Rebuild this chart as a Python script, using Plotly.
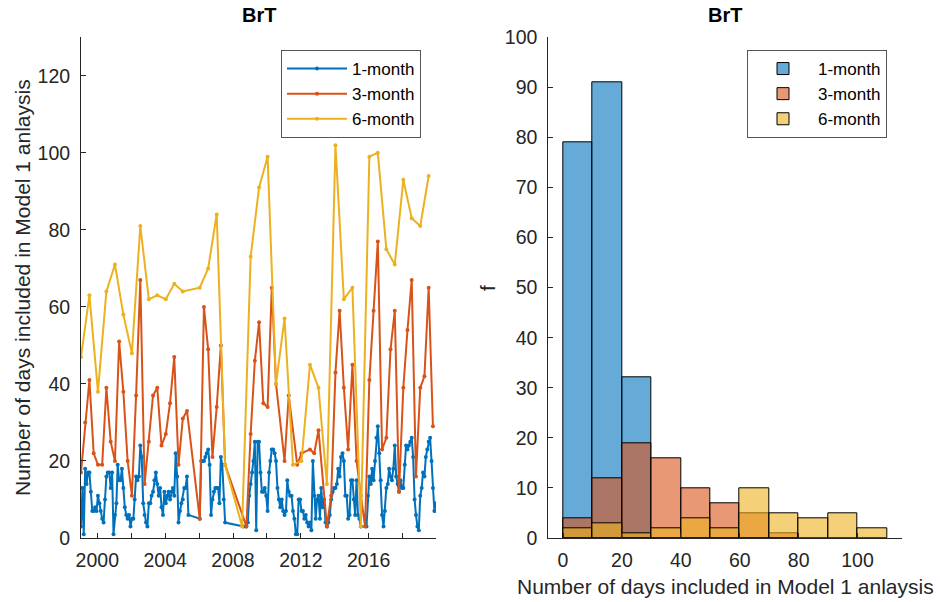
import pandas as pd
import plotly.graph_objects as go

N = None

# ---------------- Time series (left panel) ----------------
# 1-month values, monthly Jan 1999 .. Dec 2019 (None = no value)
one_month = [
    3, 13, 1, 18, 14, 17, 17, 12, 7, 7, 8, 7,          # 1999
    11, 9, 7, 5, 4, 10, 16, 17, 17, 13, 17, 1,         # 2000
    6, 9, 19, 15, 15, 18, 13, 8, 6, 5, 6, 3,           # 2001
    5, 5, 10, 16, 15, 16, 24, 21, 9, 6, 4, 3,          # 2002
    9, 9, 11, 12, 15, 17, 14, 11, 13, 8, 6, 12,        # 2003
    9, 11, 12, 10, 12, 13, 11, 22, 16, 4, 7, 9,        # 2004
    10, 13, 13, 16, 6, N, N, N, N, N, N, N,            # 2005
    5, 20, 20, 20, 21, 22, 23, 19, 6, 10, 12, 13,      # 2006
    13, 13, 9, 21, 19, 10, 4, N, N, N, N, N,           # 2007
    N, N, N, N, N, N, N, 3, N, 3, 4, 11,               # 2008
    14, 17, 20, 25, 2, 25, 25, 17, 12, 12, 13, 11,     # 2009
    7, 17, 20, 23, 23, 22, 20, 13, 10, 8, 10, 7,       # 2010
    6, 7, 15, 12, 11, 11, 7, 5, 1, 1, 10, 10,          # 2011
    7, 7, 5, 6, 4, 3, 4, 2, 20, 11, 5, 10,             # 2012
    11, 5, 13, 8, 10, 4, 3, 4, 6, 10, 12, 13,          # 2013
    13, 14, 18, 16, 21, 22, 20, 11, 11, 5, 6, 15,      # 2014
    15, 10, 6, 15, 6, 5, 3, N, N, N, 3, 11,            # 2015
    16, 14, 18, 15, 20, 26, 29, 22, 15, 6, 3, 7,       # 2016
    13, 14, 18, 16, 15, 18, 24, 16, 14, 12, 15, 13,    # 2017
    13, 19, 24, 23, 24, 25, 26, 21, 10, 6, 3, 2,       # 2018
    11, 13, 17, 16, 21, 23, 25, 26, 20, 13, 7, 9,      # 2019
]

# 3-month values, quarterly (Jan, Apr, Jul, Oct) 1999 .. 2019
three_month = [
    17, 30, 41, 22,   # 1999
    19, 19, 39, 25,   # 2000
    20, 51, 38, 20,   # 2001
    11, 37, 67, 14,   # 2002
    25, 37, 39, 24,   # 2003
    27, 35, 47, 19,   # 2004
    31, 33, N, N,     # 2005
    5, 60, 49, 21,    # 2006
    34, 50, 19, N,    # 2007
    N, N, N, 3,       # 2008
    27, 46, 56, 35,   # 2009
    34, 65, 40, N,    # 2010
    20, 37, N, 19,    # 2011
    22, N, 23, 22,    # 2012
    28, N, 3, 11,     # 2013
    43, 59, 39, 23,   # 2014
    45, 20, 11, 3,    # 2015
    41, 59, 77, 23,   # 2016
    26, 49, 59, 12,   # 2017
    39, 54, 67, 16,   # 2018
    39, 42, 65, 29,   # 2019
]

# 6-month values, half-yearly (Jan, Jul) 1999 .. 2019
six_month = [
    47, 63,  38, 64,  71, 58,  48, 81,  62, 63,  62, 66,  64, N,
    65, 70,  84, 19,  N, 3,    73, 91,  99, 40,  57, 19,  20, 45,
    39, 14,  102, 62, 65, 3,   99, 100, 75, 71,  93, 83,  81, 94,
]

dates_1m = pd.date_range("1999-01-01", periods=len(one_month), freq="MS") + pd.Timedelta(days=14)
dates_3m = pd.date_range("1999-01-01", periods=len(three_month), freq="3MS") + pd.Timedelta(days=14)
dates_6m = pd.date_range("1999-01-01", periods=len(six_month), freq="6MS") + pd.Timedelta(days=14)

year_ticks = [f"{y}-01-01" for y in range(2000, 2019, 2)]
year_labels = [str(y) if (y % 4 == 0) else "" for y in range(2000, 2019, 2)]

# ---------------- Histogram counts (right panel), bin width 10 ----------------
bin_centers = [5, 15, 25, 35, 45, 55, 65, 75, 85, 95, 105]
hist_1month = [79, 91, 32]
hist_3month = [4, 12, 19, 16, 10, 7, 5, 1]
hist_6month = [2, 3, 1, 2, 4, 2, 10, 5, 4, 5, 2]

series_names = ["1-month", "3-month", "6-month"]
line_colors = ["#0072BD", "#D95319", "#EDB120"]
bar_colors = ["rgba(0,114,189,0.6)", "rgba(217,83,25,0.6)", "rgba(237,177,32,0.6)"]

FONT = "Liberation Sans, Arial, Helvetica, sans-serif"
AX = "#262626"
W, H = 942, 602

fig = go.Figure()

for d, v, name, col in zip([dates_1m, dates_3m, dates_6m], [one_month, three_month, six_month],
                           series_names, line_colors):
    fig.add_trace(go.Scatter(
        x=d, y=v, name=name, mode="lines+markers", connectgaps=True,
        line=dict(color=col, width=2), marker=dict(color=col, size=4),
        xaxis="x", yaxis="y", legend="legend"))

for counts, name, col in zip([hist_1month, hist_3month, hist_6month], series_names, bar_colors):
    fig.add_trace(go.Bar(
        x=bin_centers[:len(counts)], y=counts, width=10, name=name,
        marker=dict(color=col, line=dict(color="#000000", width=1)),
        xaxis="x2", yaxis="y2", legend="legend2"))

ydom = [1 - 538 / H, 1 - 37.3 / H]
common_axis = dict(showline=True, linecolor=AX, linewidth=1, ticks="inside", ticklen=5,
                   tickcolor=AX, showgrid=False, zeroline=False, automargin=False,
                   tickfont=dict(family=FONT, size=19.5, color=AX))

legend_common = dict(xanchor="right", yanchor="top", bgcolor="white",
                     bordercolor="#555555", borderwidth=1, itemwidth=60,
                     font=dict(family=FONT, size=17, color="#000000"))

fig.update_layout(
    width=W, height=H, autosize=False,
    margin=dict(l=0, r=0, t=0, b=0, pad=0, autoexpand=False),
    paper_bgcolor="white", plot_bgcolor="white",
    barmode="overlay", bargap=0,
    font=dict(family=FONT, color=AX),
    xaxis=dict(domain=[81 / W, 436 / W], type="date", range=["1999-01-15", "2019-12-20"],
               tickvals=year_ticks, ticktext=year_labels, anchor="y", ticklabelstandoff=5,
               **common_axis),
    yaxis=dict(domain=ydom, range=[0, 130], tickvals=list(range(0, 121, 20)),
               anchor="x", ticklabelstandoff=6, **common_axis),
    xaxis2=dict(domain=[548.3 / W, 901.7 / W], range=[-5, 115], tickvals=list(range(0, 101, 20)),
                anchor="y2", ticklabelstandoff=5, **common_axis),
    yaxis2=dict(domain=ydom, range=[0, 100], tickvals=list(range(0, 101, 10)),
                anchor="x2", ticklabelstandoff=6, **common_axis),
    legend=dict(x=421 / W, y=1 - 50 / H, **legend_common),
    legend2=dict(x=887 / W, y=1 - 50 / H, **legend_common),
    annotations=[
        dict(text="<b>BrT</b>", x=(81 + 436) / 2 / W, y=1 - 15 / H, xref="paper", yref="paper",
             showarrow=False, xanchor="center", yanchor="middle",
             font=dict(family=FONT, size=20, color="#000000")),
        dict(text="<b>BrT</b>", x=(548 + 902) / 2 / W, y=1 - 15 / H, xref="paper", yref="paper",
             showarrow=False, xanchor="center", yanchor="middle",
             font=dict(family=FONT, size=20, color="#000000")),
        dict(text="Number of days included in Model 1 anlaysis", x=22 / W, y=1 - 288 / H,
             xref="paper", yref="paper", showarrow=False, textangle=-90,
             xanchor="center", yanchor="middle", font=dict(family=FONT, size=21, color=AX)),
        dict(text="f", x=487 / W, y=1 - 288 / H, xref="paper", yref="paper", showarrow=False,
             textangle=-90, xanchor="center", yanchor="middle",
             font=dict(family=FONT, size=21, color=AX)),
        dict(text="Number of days included in Model 1 anlaysis", x=725 / W, y=1 - 586 / H,
             xref="paper", yref="paper", showarrow=False, xanchor="center", yanchor="middle",
             font=dict(family=FONT, size=21, color=AX)),
    ],
)

fig.write_html(
    "out.html",
    config={"displayModeBar": False},
    post_script="document.body.style.margin='0';document.body.style.overflow='hidden';",
)
